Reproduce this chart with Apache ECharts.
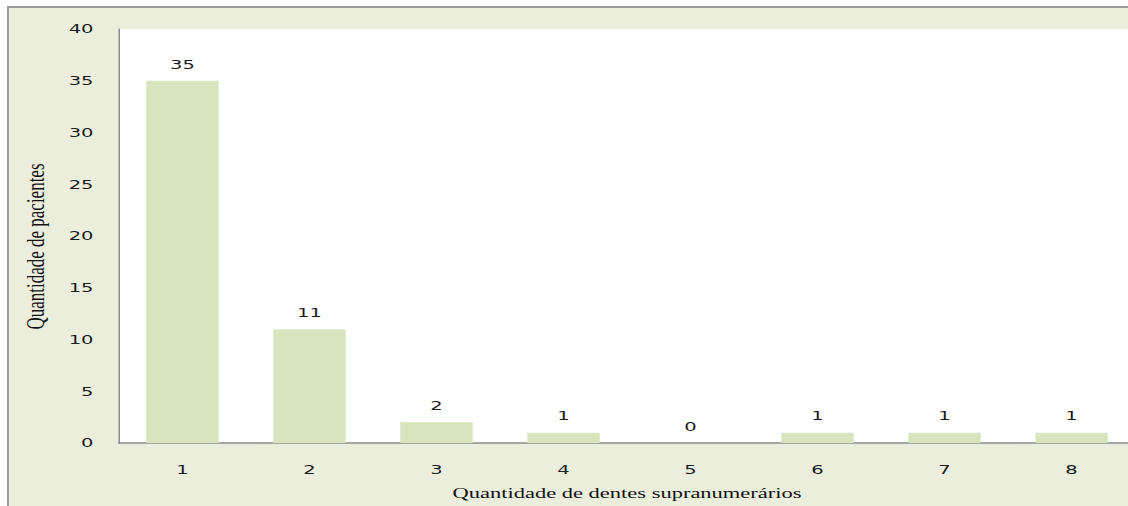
<!DOCTYPE html>
<html>
<head>
<meta charset="utf-8">
<script src="https://cdn.jsdelivr.net/npm/echarts@6/dist/echarts.min.js"></script>
<style>
  html, body { margin: 0; padding: 0; width: 1128px; height: 506px; overflow: hidden; background: #ffffff; }
  #frame { position: absolute; left: 7px; top: 6px; width: 1200px; height: 600px;
           background: #EBEEDD; border-left: 2px solid #9a9a9a; border-top: 2px solid #9a9a9a; }
  #chart { position: absolute; left: 0; top: 0; width: 770px; height: 506px;
           transform: scaleX(1.5); transform-origin: 0 0; }
</style>
</head>
<body>
<div id="frame"></div>
<div id="chart"></div>
<script>
const categories = ['1', '2', '3', '4', '5', '6', '7', '8'];
const patients = [35, 11, 2, 1, 0, 1, 1, 1];
const yTicks = [0, 5, 10, 15, 20, 25, 30, 35, 40];
const xTitle = 'Quantidade de dentes supranumerários';
const yTitle = 'Quantidade de pacientes';

const chart = echarts.init(document.getElementById('chart'), null, { renderer: 'svg' });
chart.setOption({
  animation: false,
  backgroundColor: 'transparent',
  grid: { left: 79.3, right: 13.3, top: 29, bottom: 63, show: true, backgroundColor: '#ffffff', borderWidth: 0 },
  xAxis: {
    type: 'category',
    data: categories,
    axisLine: { lineStyle: { color: '#8c8c8c', width: 1.5 } },
    axisTick: { show: false },
    axisLabel: { margin: 20, color: '#1a1a1a', fontFamily: 'DejaVu Sans', fontSize: 13 },
    name: xTitle,
    nameLocation: 'middle',
    nameGap: 42,
    nameTextStyle: { fontFamily: 'Liberation Serif', fontSize: 15, color: '#111' }
  },
  yAxis: {
    type: 'value',
    min: yTicks[0],
    max: yTicks[yTicks.length - 1],
    interval: yTicks[1] - yTicks[0],
    splitLine: { show: false },
    axisLine: { show: true, lineStyle: { color: '#8c8c8c', width: 1 } },
    axisTick: { show: false },
    axisLabel: { margin: 17, color: '#1a1a1a', fontFamily: 'DejaVu Sans', fontSize: 13 },
    name: yTitle,
    nameLocation: 'middle',
    nameRotate: 90,
    nameGap: 47,
    nameTextStyle: { fontFamily: 'Liberation Serif', fontSize: 17, color: '#111', padding: [0, 21, 0, 0] }
  },
  series: [{
    type: 'bar',
    data: patients,
    barWidth: '57%',
    itemStyle: { color: '#D7E4BD' },
    label: { show: true, position: 'top', distance: 10, color: '#1a1a1a', fontFamily: 'DejaVu Sans', fontSize: 13 }
  }]
});
</script>
</body>
</html>
